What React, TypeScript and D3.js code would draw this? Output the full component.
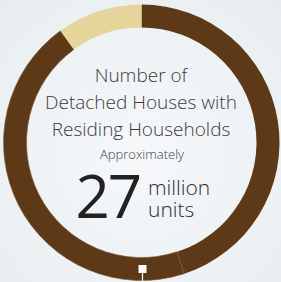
import React, { useRef, useEffect } from "react";
import * as d3 from "d3";

// share of the ring, clockwise from 12 o'clock
const segmentNames = ["a", "b", "c"];
const segmentValues = [45, 45, 10];
const titleLines = ["Number of", "Detached Houses with", "Residing Households"];
const subLabel = "Approximately";
const bigValue = "27";
const unitLines = ["million", "units"];

const App = () => {
  const ref = useRef<SVGSVGElement | null>(null);

  useEffect(() => {
    if (!ref.current) return;
    const svg = d3.select(ref.current);
    svg.selectAll("*").remove();
    const width = 281;
    const height = 282;
    const cx = 141.5;
    const cy = 142.5;
    const outerR = 138;
    const innerR = 115;

    const defs = svg.append("defs");
    const bg = defs
      .append("radialGradient")
      .attr("id", "bg")
      .attr("cx", "50%")
      .attr("cy", "55%")
      .attr("r", "75%");
    bg.append("stop").attr("offset", "0%").attr("stop-color", "#f6f8fa");
    bg.append("stop").attr("offset", "60%").attr("stop-color", "#eef2f5");
    bg.append("stop").attr("offset", "100%").attr("stop-color", "#e6ecf0");

    const beige = defs
      .append("linearGradient")
      .attr("id", "beige")
      .attr("gradientUnits", "userSpaceOnUse")
      .attr("x1", 62)
      .attr("x2", 142)
      .attr("y1", 0)
      .attr("y2", 0);
    beige.append("stop").attr("offset", "0%").attr("stop-color", "#e6d59a");
    beige.append("stop").attr("offset", "50%").attr("stop-color", "#f1e5bf");
    beige.append("stop").attr("offset", "100%").attr("stop-color", "#e4d296");

    svg.append("rect").attr("width", width).attr("height", height).attr("fill", "url(#bg)");

    const fills = ["#5d3917", "#5d3917", "url(#beige)"];
    const pie = d3
      .pie<number>()
      .sort(null)
      .startAngle(0)
      .endAngle(2 * Math.PI);
    const arc = d3.arc<d3.PieArcDatum<number>>().innerRadius(innerR).outerRadius(outerR);

    const g = svg.append("g").attr("transform", `translate(${cx},${cy})`);
    g.selectAll("path")
      .data(pie(segmentValues))
      .join("path")
      .attr("class", (d, i) => "seg-" + segmentNames[i])
      .attr("d", arc)
      .attr("fill", (d, i) => fills[i])
      .attr("stroke", (d, i) => (i === 1 ? "#7a5a3a" : "none"))
      .attr("stroke-width", 0.6);

    // marker at the bottom of the ring
    g.append("line")
      .attr("x1", 1)
      .attr("x2", 1)
      .attr("y1", 130)
      .attr("y2", 140)
      .attr("stroke", "#ffffff")
      .attr("stroke-width", 1.2);
    g.append("rect")
      .attr("x", -3)
      .attr("y", 122.5)
      .attr("width", 8)
      .attr("height", 8)
      .attr("fill", "#ffffff");

    const font = "'Open Sans', sans-serif";
    svg
      .append("g")
      .selectAll("text")
      .data(titleLines)
      .join("text")
      .attr("x", 141)
      .attr("y", (d, i) => 82 + i * 27)
      .attr("text-anchor", "middle")
      .attr("font-family", font)
      .attr("font-weight", 300)
      .attr("font-size", 19)
      .attr("fill", "#3b3b3b")
      .text((d) => d);

    svg
      .append("text")
      .attr("x", 142)
      .attr("y", 159)
      .attr("text-anchor", "middle")
      .attr("font-family", font)
      .attr("font-weight", 300)
      .attr("font-size", 13)
      .attr("fill", "#3b3b3b")
      .text(subLabel);

    svg
      .append("text")
      .attr("x", 140)
      .attr("y", 218)
      .attr("text-anchor", "end")
      .attr("font-family", font)
      .attr("font-weight", 400)
      .attr("font-size", 60)
      .attr("letter-spacing", -2)
      .attr("fill", "#222222")
      .text(bigValue);

    svg
      .append("g")
      .selectAll("text")
      .data(unitLines)
      .join("text")
      .attr("x", 148)
      .attr("y", (d, i) => 195 + i * 22)
      .attr("font-family", font)
      .attr("font-weight", 300)
      .attr("font-size", 21)
      .attr("fill", "#2e2e2e")
      .text((d) => d);
  }, []);

  return (
    <div style={{ position: "absolute", left: 0, top: 0 }}>
      <svg ref={ref} width={281} height={282} style={{ display: "block" }} />
    </div>
  );
};

export default App;
